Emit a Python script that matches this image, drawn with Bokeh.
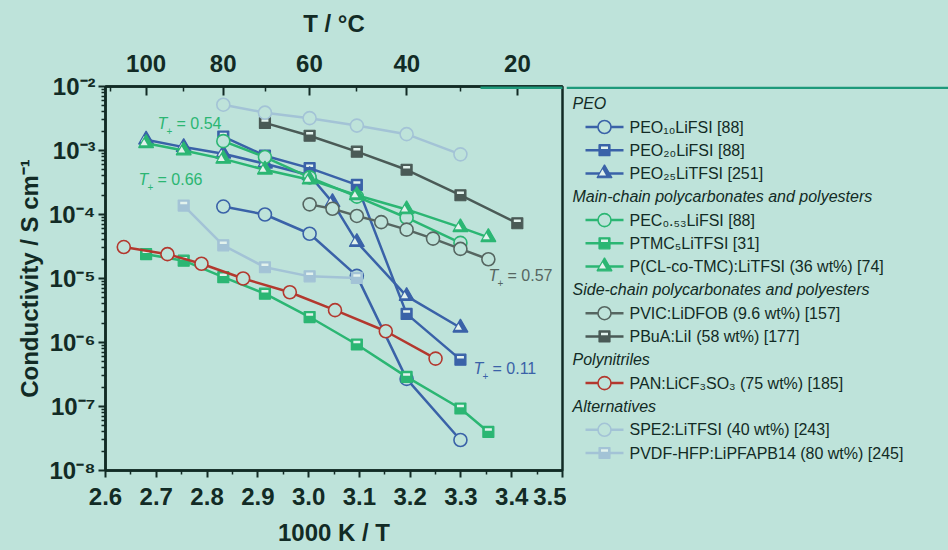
from bokeh.plotting import figure
from bokeh.layouts import row
from bokeh.models import (Range1d, LogScale, LinearAxis, FixedTicker,
                          PrintfTickFormatter, Label)
from bokeh.core.properties import value
from bokeh.embed import file_html
from bokeh.resources import INLINE

# ---------------- data ----------------
x_ticks = [2.6, 2.7, 2.8, 2.9, 3.0, 3.1, 3.2, 3.3, 3.4, 3.5]
x_minor = [2.65, 2.75, 2.85, 2.95, 3.05, 3.15, 3.25, 3.35, 3.45]
y_decades = [1e-8, 1e-7, 1e-6, 1e-5, 1e-4, 1e-3, 1e-2]
y_tick_labels = ["10⁻⁸", "10⁻⁷", "10⁻⁶", "10⁻⁵", "10⁻⁴", "10⁻³", "10⁻²"]
top_temps = [100, 80, 60, 40, 20]
top_minor_temps = [110, 90, 70, 50, 30]

peo10_x = [2.832, 2.914, 3.002, 3.095, 3.193, 3.299]
peo10_y = [1.33e-4, 1.0e-4, 5.0e-5, 1.1e-5, 2.7e-7, 3.0e-8]
peo20_x = [2.832, 2.914, 3.002, 3.095, 3.193, 3.299]
peo20_y = [1.65e-3, 8.3e-4, 5.3e-4, 2.9e-4, 2.8e-6, 5.4e-7]
peo25_x = [2.680, 2.754, 2.832, 2.914, 3.002, 3.047, 3.095, 3.193, 3.299]
peo25_y = [1.47e-3, 1.13e-3, 8.9e-4, 6.2e-4, 4.1e-4, 1.55e-4, 3.7e-5, 5.3e-6, 1.7e-6]
pec_x = [2.832, 2.914, 3.002, 3.095, 3.193, 3.299]
pec_y = [1.4e-3, 7.9e-4, 3.8e-4, 1.9e-4, 8.9e-5, 3.6e-5]
ptmc_x = [2.680, 2.754, 2.832, 2.914, 3.002, 3.095, 3.193, 3.299, 3.354]
ptmc_y = [2.4e-5, 1.9e-5, 1.05e-5, 5.8e-6, 2.5e-6, 9.3e-7, 2.9e-7, 9.3e-8, 4.0e-8]
pcl_x = [2.680, 2.754, 2.832, 2.914, 3.002, 3.095, 3.193, 3.299, 3.354]
pcl_y = [1.3e-3, 1.0e-3, 7.4e-4, 5.0e-4, 3.5e-4, 2.0e-4, 1.2e-4, 6.3e-5, 4.4e-5]
pvic_x = [3.002, 3.047, 3.095, 3.143, 3.193, 3.245, 3.299, 3.354]
pvic_y = [1.44e-4, 1.23e-4, 9.5e-5, 7.6e-5, 5.8e-5, 4.2e-5, 2.9e-5, 2.0e-5]
pbua_x = [2.914, 3.002, 3.095, 3.193, 3.299, 3.411]
pbua_y = [2.7e-3, 1.7e-3, 9.6e-4, 5.0e-4, 2.0e-4, 7.3e-5]
pan_x = [2.636, 2.722, 2.789, 2.871, 2.963, 3.052, 3.152, 3.250]
pan_y = [3.1e-5, 2.4e-5, 1.7e-5, 1.0e-5, 6.1e-6, 3.2e-6, 1.5e-6, 5.6e-7]
spe2_x = [2.832, 2.914, 3.002, 3.095, 3.193, 3.299]
spe2_y = [5.2e-3, 3.9e-3, 3.2e-3, 2.45e-3, 1.8e-3, 8.7e-4]
pvdf_x = [2.754, 2.832, 2.914, 3.002, 3.095]
pvdf_y = [1.38e-4, 3.3e-5, 1.5e-5, 1.08e-5, 1.02e-5]

# ---------------- styles ----------------
BG = "#bee3da"
LIGHT = "#e2f2ed"
DARK = "#122b25"
TEAL = "#1e9a7b"
BLUE = "#3a62a8"
GREEN = "#2bb673"
GRAY = "#566661"
DGRAY = "#4a5a56"
RED = "#b3382e"
LBLUE = "#a3c3d6"
FONT = "Liberation Sans"

series = [
    ("PEO₁₀LiFSI [88]", peo10_x, peo10_y, BLUE, "circle"),
    ("PEO₂₀LiFSI [88]", peo20_x, peo20_y, BLUE, "square"),
    ("PEO₂₅LiTFSI [251]", peo25_x, peo25_y, BLUE, "triangle"),
    ("PEC₀.₅₃LiFSI [88]", pec_x, pec_y, GREEN, "circle"),
    ("PTMC₅LiTFSI [31]", ptmc_x, ptmc_y, GREEN, "square"),
    ("P(CL-co-TMC):LiTFSI (36 wt%) [74]", pcl_x, pcl_y, GREEN, "triangle"),
    ("PVIC:LiDFOB (9.6 wt%) [157]", pvic_x, pvic_y, GRAY, "circle"),
    ("PBuA:LiI (58 wt%) [177]", pbua_x, pbua_y, DGRAY, "square"),
    ("PAN:LiCF₃SO₃ (75 wt%) [185]", pan_x, pan_y, RED, "circle"),
    ("SPE2:LiTFSI (40 wt%) [243]", spe2_x, spe2_y, LBLUE, "circle"),
    ("PVDF-HFP:LiPFAPB14 (80 wt%) [245]", pvdf_x, pvdf_y, LBLUE, "square"),
]
groups = [
    ("PEO", [0, 1, 2]),
    ("Main-chain polycarbonates and polyesters", [3, 4, 5]),
    ("Side-chain polycarbonates and polyesters", [6, 7]),
    ("Polynitriles", [8]),
    ("Alternatives", [9, 10]),
]

# frame geometry (pixels)
FL, FR, FT, FB = 105, 562, 86, 470
W1 = 566
PX_PER_X = (FR - FL) / 0.9
PX_PER_DEC = (FB - FT) / 6.0

p = figure(width=W1, height=550, x_range=Range1d(2.6, 3.5),
           y_range=Range1d(1e-8, 1e-2), y_axis_type="log",
           output_backend="svg", toolbar_location=None,
           min_border_left=FL, min_border_right=W1 - FR,
           min_border_top=FT, min_border_bottom=550 - FB,
           background_fill_color=BG, border_fill_color=BG,
           outline_line_color=DARK, outline_line_width=2.5)
p.xgrid.grid_line_color = None
p.ygrid.grid_line_color = None

f_up = 10 ** (-2.5 / PX_PER_DEC)
d_left = 2.0 / PX_PER_X
p.extra_y_ranges = {"up": Range1d(1e-8 * f_up, 1e-2 * f_up)}
p.extra_y_scales = {"up": LogScale()}
p.extra_x_ranges = {"left": Range1d(2.6 + d_left, 3.5 + d_left)}


def style_axis(ax, label=None, standoff=5):
    ax.axis_line_color = DARK
    ax.axis_line_width = 2.5
    ax.major_tick_line_color = DARK
    ax.minor_tick_line_color = DARK
    ax.major_tick_line_width = 2
    ax.minor_tick_line_width = 1.5
    ax.major_label_text_font = FONT
    ax.major_label_text_font_style = "bold"
    ax.major_label_text_font_size = "24px"
    ax.major_label_text_color = DARK
    if label:
        ax.axis_label = label
        ax.axis_label_text_font = FONT
        ax.axis_label_text_font_style = "bold"
        ax.axis_label_text_font_size = "24px"
        ax.axis_label_text_color = DARK
        ax.axis_label_standoff = standoff


xa = p.xaxis[0]
style_axis(xa, "1000 K / T", 11)
xa.ticker = FixedTicker(ticks=x_ticks, minor_ticks=x_minor)
xa.formatter = PrintfTickFormatter(format="%.1f")
xa.major_tick_out = 7
xa.major_tick_in = 0
xa.minor_tick_out = 4
xa.minor_tick_in = 0
xa.major_label_standoff = 10

ya = p.yaxis[0]
style_axis(ya, "Conductivity / S cm⁻¹", 3)
ya.ticker = FixedTicker(ticks=y_decades,
                        minor_ticks=[k * d for d in y_decades[:-1] for k in range(2, 10)])
ya.major_label_overrides = dict(zip(y_decades, y_tick_labels))
ya.major_tick_out = 7
ya.major_tick_in = 0
ya.minor_tick_out = 4
ya.minor_tick_in = 0
ya.major_label_standoff = 3

top_pos = [1000.0 / (t + 273.15) for t in top_temps]
top_minor_pos = [1000.0 / (t + 273.15) for t in top_minor_temps]
top = LinearAxis(ticker=FixedTicker(ticks=top_pos, minor_ticks=top_minor_pos),
                 major_label_overrides={pos: str(t) for pos, t in zip(top_pos, top_temps)})
style_axis(top, "T / °C", 15)
top.major_tick_in = 9
top.major_tick_out = 0
top.minor_tick_in = 5
top.minor_tick_out = 0
top.major_label_standoff = 15
p.add_layout(top, "above")

# ---------------- series ----------------
for name, xs, ys, col, mk in series:
    p.line(xs, ys, line_color=col, line_width=2.5)
    if mk == "circle":
        p.scatter(xs, ys, marker="circle", size=13, fill_color=BG,
                  line_color=col, line_width=1.6)
    elif mk == "square":
        p.scatter(xs, ys, marker="square", size=11, fill_color=col,
                  line_color=col, line_width=1.2)
        p.scatter(xs, ys, marker="dash", size=7, line_color=LIGHT,
                  line_width=2.5, y_range_name="up")
    else:
        p.scatter(xs, ys, marker="triangle", size=15, fill_color=col,
                  line_color=col, line_width=1.2)
        p.scatter(xs, ys, marker="triangle", size=7, fill_color=LIGHT,
                  line_color=None, x_range_name="left")

# teal page rule over the right end of the top axis
x_rule = 2.6 + (480 - FL) / PX_PER_X
y_rule = 10 ** (-2 - 1.2 / PX_PER_DEC)
p.line([x_rule, 3.5], [y_rule, y_rule], line_color=TEAL,
       line_width=2.5, level="overlay")


# ---------------- T+ annotations (screen units, relative to frame) ----------------
def lab(px, py, text, size="16px", style="normal", color=DARK):
    p.add_layout(Label(x=px - FL, y=FB - py, x_units="screen", y_units="screen",
                       text=text, text_font=FONT,
                       text_font_size=size, text_font_style=style,
                       text_color=color, text_baseline="middle",
                       text_align="left"))


def tplus(px, py, val, color):
    lab(px, py, "T", style="italic", color=color)
    lab(px + 9, py + 7, "+", size="10px", color=color)
    lab(px + 19, py, "= " + val, color=color)


tplus(157, 123, "0.54", GREEN)
tplus(138, 179, "0.66", GREEN)
tplus(488, 275, "0.57", GRAY)
tplus(473, 368, "0.11", BLUE)

# ---------------- legend panel (data units = canvas pixels) ----------------
q = figure(width=948 - W1, height=550, x_range=Range1d(W1, 948),
           y_range=Range1d(FB, FT), output_backend="svg", toolbar_location=None,
           min_border_left=0, min_border_right=0,
           min_border_top=FT, min_border_bottom=550 - FB,
           x_axis_location=None, y_axis_location=None,
           background_fill_color=BG, border_fill_color=BG, outline_line_color=None)
q.xgrid.grid_line_color = None
q.ygrid.grid_line_color = None
q.line([W1, 948], [87.2, 87.2], line_color=TEAL, line_width=2.5)

row_y = 103
head_t, item_t = [], []
for gname, idxs in groups:
    head_t.append((gname, row_y))
    row_y += 23.5
    for i in idxs:
        name, xs, ys, col, mk = series[i]
        y = row_y
        q.line([585, 623], [y, y], line_color=col, line_width=2.5)
        if mk == "circle":
            q.scatter([604], [y], marker="circle", size=13, fill_color=BG,
                      line_color=col, line_width=1.6)
        elif mk == "square":
            q.scatter([604], [y], marker="square", size=11, fill_color=col,
                      line_color=col, line_width=1.2)
            q.scatter([604], [y - 2.5], marker="dash", size=7, line_color=LIGHT,
                      line_width=2.5)
        else:
            q.scatter([604], [y], marker="triangle", size=15, fill_color=col,
                      line_color=col, line_width=1.2)
            q.scatter([602], [y], marker="triangle", size=7, fill_color=LIGHT,
                      line_color=None)
        item_t.append((name, y))
        row_y += 23.2

q.text(x=[572] * len(head_t), y=[t[1] for t in head_t], text=[t[0] for t in head_t],
       text_font=value(FONT), text_font_size="16px", text_font_style="italic",
       text_color=DARK, text_baseline="middle")
q.text(x=[629] * len(item_t), y=[t[1] for t in item_t], text=[t[0] for t in item_t],
       text_font=value(FONT), text_font_size="16px",
       text_color=DARK, text_baseline="middle")

layout = row(p, q, spacing=0, styles={"background-color": BG})
open("out.html", "w").write(file_html(layout, INLINE))
